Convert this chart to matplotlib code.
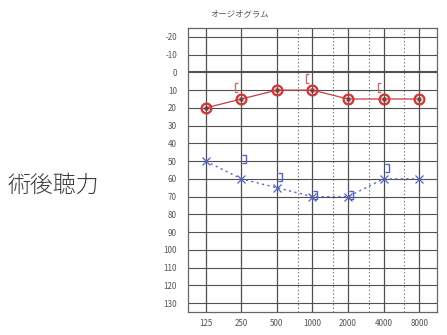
from matplotlib import pyplot as plt
from matplotlib.path import Path
import numpy as np

plt.rcParams['font.family'] = ['Noto Sans CJK JP', 'DejaVu Sans']
plt.rcParams['axes.unicode_minus'] = False

freqs = [125, 250, 500, 1000, 2000, 4000, 8000]
freq_labels = ['125', '250', '500', '1000', '2000', '4000', '8000']
half_octaves = [750, 1500, 3000, 6000]

# air conduction (dB)
right_air = [20, 15, 10, 10, 15, 15, 15]
left_air = [50, 60, 65, 70, 70, 60, 60]

# bone conduction (dB)
right_bone_freqs = [250, 1000, 4000]
right_bone = [10, 5, 10]
left_bone_freqs = [250, 500, 1000, 2000, 4000]
left_bone = [50, 60, 70, 70, 55]

db_ticks = list(range(-20, 131, 10))

red = '#cc3b3b'
blue = '#5563c4'

# bracket markers, offset from the point like on an audiogram form
open_bracket = Path([(-3, 7), (-6, 7), (-6, -2), (-3, -2)],
                    [Path.MOVETO, Path.LINETO, Path.LINETO, Path.LINETO])
close_bracket = Path([(1, 6), (5, 6), (5, -2), (1, -2)],
                     [Path.MOVETO, Path.LINETO, Path.LINETO, Path.LINETO])

fig = plt.figure(figsize=(4.47, 3.35), dpi=100)
ax = fig.add_axes([0.4206, 0.0687, 0.557, 0.8477])

ax.set_xscale('log', base=2)
ax.set_xlim(125 / np.sqrt(2), 8000 * np.sqrt(2))
ax.set_ylim(135, -25)

for f in freqs:
    ax.axvline(f, color='#505050', lw=0.9, zorder=1)
for f in half_octaves:
    ax.axvline(f, color='#777777', lw=0.8, ls=(0, (1.2, 2)), zorder=1)
for d in db_ticks:
    ax.axhline(d, color='#505050', lw=1.5 if d == 0 else 0.8, zorder=1)

ax.plot(freqs, right_air, color=red, lw=0.9, marker='o', ms=7,
        mfc='none', mec=red, mew=1.7, zorder=3)
ax.plot(freqs, right_air, ls='none', marker='s', ms=2.5, mfc='#7a4040',
        mec='none', zorder=4)
ax.plot(right_bone_freqs, right_bone, ls='none', marker=open_bracket,
        ms=10, mfc='none', mec='#c87070', mew=1.0, zorder=3)

ax.plot(freqs, left_air, color=blue, lw=1.0, ls=(0, (1.5, 2.5)),
        marker='x', ms=6, mec=blue, mew=0.9, zorder=3)
ax.plot(left_bone_freqs, left_bone, ls='none', marker=close_bracket,
        ms=8.6, mfc='none', mec=blue, mew=1.0, zorder=3)

ax.set_xticks(freqs)
ax.set_xticklabels(freq_labels)
ax.xaxis.set_minor_locator(plt.NullLocator())
ax.set_yticks(db_ticks)
ax.tick_params(length=0, labelsize=5.8, colors='#555555')
ax.tick_params(axis='y', pad=8)
ax.tick_params(axis='x', pad=5)
for s in ax.spines.values():
    s.set_color('#666666')
    s.set_linewidth(0.9)

fig.text(210 / 447, 1 - 14 / 335, 'オージオグラム', fontsize=6,
         color='#555555', ha='left', va='center')
fig.text(8 / 447, 1 - 185 / 335, '術後聴力', fontsize=16.5,
         color='#3a3a3a', ha='left', va='center', fontweight='light')

fig.savefig('out.png', dpi=100)
